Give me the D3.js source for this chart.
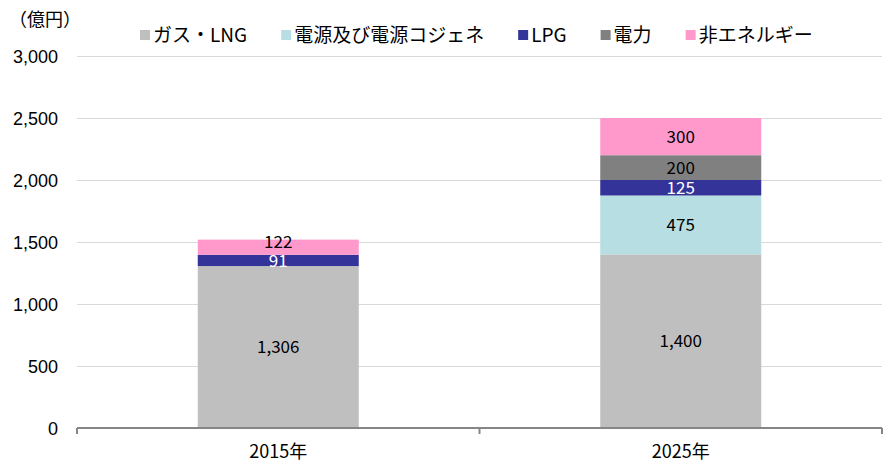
<!doctype html>
<html>

<head>
    <meta charset="utf-8">
    <style>
        body {
            margin: 0;
            background: #fff;
        }

        .grid line {
            stroke: #d9d9d9;
            stroke-width: 1px;
            shape-rendering: crispEdges;
        }

        .yaxis text {
            font-family: "Liberation Sans", Arial, sans-serif;
            font-size: 18px;
            fill: #000;
        }

        .jp {
            font-family: "Noto Sans CJK JP", sans-serif;
        }
    </style>
    <script src="https://d3js.org/d3.v7.min.js"></script>
</head>

<body>
    <script>
        // data
        const years = ["2015年", "2025年"]
        const seriesNames = ["ガス・LNG", "電源及び電源コジェネ", "LPG", "電力", "非エネルギー"]
        const seriesColors = ["#bfbfbf", "#b7dee2", "#333399", "#808080", "#ff99cc"]
        const labelColors = ["#000", "#000", "#fff", "#000", "#000"]
        const gas = [1306, 1400]
        const power = [0, 475]
        const lpg = [91, 125]
        const elec = [0, 200]
        const nonEnergy = [122, 300]
        const yTicks = [0, 500, 1000, 1500, 2000, 2500, 3000]

        const W = 889, H = 465
        const plotLeft = 77, plotRight = 882, plotTop = 56, plotBottom = 428

        const svg = d3.select("body").append("svg")
            .attr("width", W)
            .attr("height", H)

        const rows = years.map((yr, i) => ({
            year: yr,
            s0: gas[i], s1: power[i], s2: lpg[i], s3: elec[i], s4: nonEnergy[i]
        }))
        const keys = ["s0", "s1", "s2", "s3", "s4"]
        const stacked = d3.stack().keys(keys)(rows)

        const x = d3.scaleBand()
            .domain(years)
            .range([plotLeft, plotRight])
            .paddingInner(0.6)
            .paddingOuter(0.3)

        const y = d3.scaleLinear()
            .domain([0, 3000])
            .range([plotBottom, plotTop])

        // gridlines
        svg.append("g").attr("class", "grid")
            .selectAll("line")
            .data(yTicks.slice(1))
            .enter().append("line")
            .attr("x1", plotLeft).attr("x2", plotRight)
            .attr("y1", d => Math.round(y(d)) + 0.5)
            .attr("y2", d => Math.round(y(d)) + 0.5)

        // y axis labels
        const yAxis = svg.append("g").attr("class", "yaxis")
            .attr("transform", `translate(${plotLeft},0)`)
            .call(d3.axisLeft(y).tickValues(yTicks).tickFormat(d3.format(",")).tickSize(0).tickPadding(19))
        yAxis.select(".domain").remove()
        yAxis.selectAll("text").attr("dy", "0.36em")

        // bars
        const layer = svg.append("g").selectAll("g")
            .data(stacked)
            .enter().append("g")
            .attr("fill", (d, i) => seriesColors[i])

        layer.selectAll("rect")
            .data(d => d.filter(p => p[1] - p[0] > 0))
            .enter().append("rect")
            .attr("x", d => x(d.data.year))
            .attr("width", x.bandwidth())
            .attr("y", d => y(d[1]))
            .attr("height", d => y(d[0]) - y(d[1]))

        // data labels (small top segment label is lifted a little, like excel does)
        const lastKey = keys.length - 1
        stacked.forEach((s, i) => {
            svg.append("g").selectAll("text")
                .data(s.filter(p => p[1] - p[0] > 0))
                .enter().append("text")
                .attr("class", "jp")
                .attr("x", d => x(d.data.year) + x.bandwidth() / 2)
                .attr("y", d => {
                    const mid = y((d[0] + d[1]) / 2)
                    const h = y(d[0]) - y(d[1])
                    return (i === lastKey && h < 20) ? mid - 5 : mid
                })
                .attr("dy", "0.36em")
                .attr("text-anchor", "middle")
                .attr("font-size", 17)
                .attr("fill", labelColors[i])
                .text(d => d3.format(",")(d[1] - d[0]))
        })

        // x axis
        const xAxisG = svg.append("g")
        xAxisG.append("line")
            .attr("x1", plotLeft).attr("x2", plotRight)
            .attr("y1", plotBottom).attr("y2", plotBottom)
            .attr("stroke", "#868686").attr("stroke-width", 2)
        const tickXs = [plotLeft].concat(years.map(d => x(d) - x.step() * x.paddingInner() / 2 + x.step()))
        xAxisG.selectAll(".tk")
            .data(tickXs)
            .enter().append("line")
            .attr("x1", d => d).attr("x2", d => d)
            .attr("y1", plotBottom).attr("y2", plotBottom + 6)
            .attr("stroke", "#868686").attr("stroke-width", 2)
        xAxisG.selectAll("text")
            .data(years)
            .enter().append("text")
            .attr("class", "jp")
            .attr("x", d => x(d) + x.bandwidth() / 2)
            .attr("y", 458)
            .attr("text-anchor", "middle")
            .attr("font-size", 18)
            .attr("fill", "#000")
            .text(d => d)

        // unit label
        svg.append("text")
            .attr("class", "jp")
            .attr("x", 9)
            .attr("y", 26)
            .attr("font-size", 18)
            .text("（億円）")

        // legend
        const legend = svg.append("g")
        let lx = 140
        seriesNames.forEach((name, i) => {
            legend.append("rect")
                .attr("x", lx).attr("y", 30)
                .attr("width", 10).attr("height", 10)
                .attr("fill", seriesColors[i])
            const t = legend.append("text")
                .attr("class", "jp")
                .attr("x", lx + 13)
                .attr("y", 42)
                .attr("font-size", 19)
                .attr("fill", "#000")
                .text(name)
            lx += 13 + t.node().getComputedTextLength() + 34
        })
    </script>
</body>

</html>
